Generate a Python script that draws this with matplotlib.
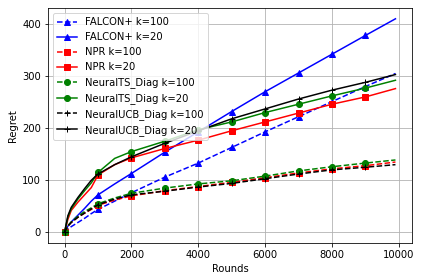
import numpy as np
import matplotlib
matplotlib.use('Agg')
import matplotlib.pyplot as plt

rounds = [0, 100, 200, 400, 600, 800, 1000, 1500, 2000, 3000, 4000, 5000, 6000, 7000, 8000, 9000, 9900]
marks = [0, 6, 8, 9, 10, 11, 12, 13, 14, 15]  # markers every 1000 rounds

falcon_100 = [0, 6, 11, 19, 27, 36, 44, 60, 76, 106, 133, 163, 193, 222, 251, 280, 305]
falcon_20 = [0, 12, 20, 33, 46, 60, 72, 93, 113, 154, 193, 232, 270, 306, 342, 378, 410]
npr_100 = [0, 12, 19, 29, 37, 44, 52, 62, 70, 80, 88, 96, 105, 114, 122, 128, 135]
npr_20 = [0, 25, 42, 58, 72, 86, 110, 130, 143, 161, 177, 195, 212, 229, 246, 260, 276]
nts_100 = [0, 13, 20, 31, 40, 47, 55, 66, 75, 85, 93, 99, 108, 118, 126, 133, 139]
nts_20 = [0, 30, 45, 64, 80, 95, 115, 142, 155, 175, 197, 212, 230, 246, 262, 277, 292]
nucb_100 = [0, 12, 19, 29, 37, 45, 53, 64, 72, 79, 87, 94, 103, 112, 120, 125, 130]
nucb_20 = [0, 32, 48, 67, 84, 100, 112, 130, 145, 171, 195, 218, 237, 256, 273, 288, 303]

fig = plt.figure(figsize=(423 / 72, 280 / 72), dpi=72)
plt.subplots_adjust(left=0.1135, right=0.974, top=0.971, bottom=0.132)

plt.plot(rounds, falcon_100, '--', color='blue', marker='^', markevery=marks, label='FALCON+ k=100')
plt.plot(rounds, falcon_20, '-', color='blue', marker='^', markevery=marks, label='FALCON+ k=20')
plt.plot(rounds, npr_100, '--', color='red', marker='s', markevery=marks, label='NPR k=100')
plt.plot(rounds, npr_20, '-', color='red', marker='s', markevery=marks, label='NPR k=20')
plt.plot(rounds, nts_100, '--', color='green', marker='o', markevery=marks, label='NeuralTS_Diag k=100')
plt.plot(rounds, nts_20, '-', color='green', marker='o', markevery=marks, label='NeuralTS_Diag k=20')
plt.plot(rounds, nucb_100, '--', color='black', marker='+', markevery=marks, label='NeuralUCB_Diag k=100')
plt.plot(rounds, nucb_20, '-', color='black', marker='+', markevery=marks, label='NeuralUCB_Diag k=20')

plt.xlabel('Rounds')
plt.ylabel('Regret')
plt.grid()
plt.legend(loc='upper left')
plt.savefig('out.png', dpi=72)
